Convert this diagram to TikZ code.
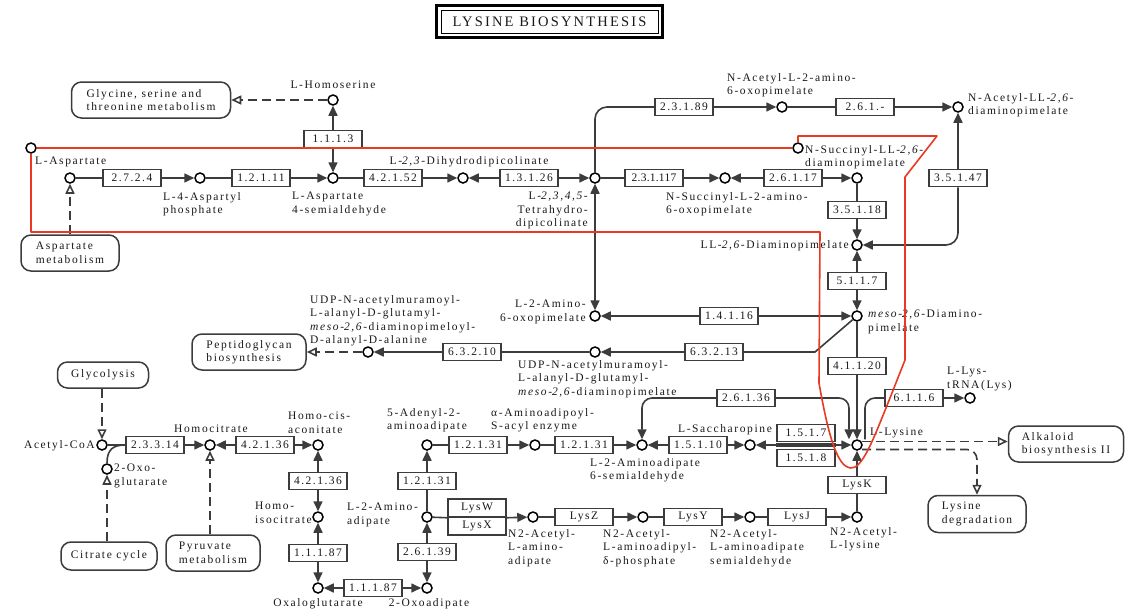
\documentclass[tikz,border=0pt]{standalone}
\usepackage{fontspec}
\setmainfont{Liberation Serif}
\newfontfamily\labfont{Liberation Serif}[LetterSpace=14]
\newfontfamily\ecfont{Liberation Serif}[LetterSpace=13]
\newfontfamily\tightfont{Liberation Serif}[LetterSpace=2]
\newfontfamily\titlefont{Liberation Serif}[LetterSpace=15]
\usetikzlibrary{arrows.meta,calc}
\definecolor{annot}{RGB}{232,58,35}
\definecolor{ink}{RGB}{25,25,25}
\definecolor{edge}{RGB}{60,60,60}

\begin{document}
\begin{tikzpicture}[x=1pt,y=-1pt,
  cpd/.style={circle,draw=black,line width=1.5pt,fill=white,minimum size=10pt,inner sep=0pt},
  ec/.style={rectangle,draw=edge,line width=1.5pt,fill=white,minimum width=58pt,
    minimum height=17pt,inner sep=0pt,text=ink,font=\ecfont\fontsize{11.5}{12}\selectfont},
  mapbox/.style={rectangle,rounded corners=10pt,draw=edge,line width=1.5pt,fill=white,
    inner sep=0pt,align=left,text=ink,font=\labfont\fontsize{11.5}{13.5}\selectfont},
  lab/.style={inner sep=0pt,text=ink,font=\labfont\fontsize{11.5}{13.5}\selectfont},
  rx/.style={draw=edge,line width=1.6pt},
  toarr/.style={-{Triangle[length=10pt,width=9pt]}},
  twoarr/.style={{Triangle[length=10pt,width=9pt]}-{Triangle[length=10pt,width=9pt]}},
  maplink/.style={draw=edge,line width=1.6pt,dash pattern=on 9pt off 5pt,
    -{Triangle[open,length=10pt,width=9pt]}},
  annotline/.style={draw=annot,line width=1.6pt,line join=round}]

\useasboundingbox (0,0) rectangle (1133,613);

% ---------- title ----------
\node[draw=black,line width=1pt,minimum width=217pt,minimum height=23pt,inner sep=0pt,
  text=ink,font=\titlefont\fontsize{14.5}{16}\selectfont] (title) at (549.5,21.5) {LYSINE BIOSYNTHESIS};
\draw[line width=3pt] ($(title.north west)+(-4,-4)$) rectangle ($(title.south east)+(4,4)$);

% ---------- compounds ----------
\node[cpd] (hse) at (333,100) {};
\node[cpd] (asp) at (70,178) {};
\node[cpd] (aspp) at (200,178) {};
\node[cpd] (asa) at (333,178) {};
\node[cpd] (dhdp) at (463,178) {};
\node[cpd] (thdp) at (595,178) {};
\node[cpd] (sko) at (725,178) {};
\node[cpd] (sdap) at (857,178) {};
\node[cpd] (ako) at (782,107) {};
\node[cpd] (adap) at (958,107) {};
\node[cpd] (lldap) at (857,245) {};
\node[cpd] (mdap) at (857,316) {};
\node[cpd] (ako6) at (595,316) {};
\node[cpd] (udpa) at (595,352) {};
\node[cpd] (udpb) at (368,352) {};
\node[cpd] (lys) at (857,445) {};
\node[cpd] (ltrna) at (970,398) {};
\node[cpd] (sacc) at (750,445) {};
\node[cpd] (aasa) at (642,445) {};
\node[cpd] (aae) at (535,445) {};
\node[cpd] (ada) at (427,445) {};
\node[cpd] (aad) at (427,517) {};
\node[cpd] (oad) at (427,588) {};
\node[cpd] (oxg) at (318,588) {};
\node[cpd] (hic) at (318,517) {};
\node[cpd] (hca) at (318,445) {};
\node[cpd] (hc) at (210,445) {};
\node[cpd] (accoa) at (102,445) {};
\node[cpd] (oglu) at (107,469) {};
\node[cpd] (naad) at (533,517) {};
\node[cpd] (naap) at (643,517) {};
\node[cpd] (naas) at (750,517) {};
\node[cpd] (nalys) at (857,517) {};
\node[cpd] (mk1) at (31,148) {};
\node[cpd] (mk2) at (798,148) {};

% ---------- enzymes ----------
\node[ec] (e1113) at (333,139) {1.1.1.3};
\node[ec] (e2724) at (132,178) {2.7.2.4};
\node[ec] (e12111) at (261,178) {1.2.1.11};
\node[ec] (e42152) at (393,178) {4.2.1.52};
\node[ec] (e13126) at (529,178) {1.3.1.26};
\node[ec] (e231117) at (654,178) {\tightfont 2.3.1.117};
\node[ec] (e26117) at (793,178) {2.6.1.17};
\node[ec] (e35118) at (857,210) {3.5.1.18};
\node[ec] (e23189) at (684,107) {2.3.1.89};
\node[ec] (e261) at (865,107) {2.6.1.-};
\node[ec] (e35147) at (958,178) {3.5.1.47};
\node[ec] (e5117) at (857,281) {5.1.1.7};
\node[ec] (e14116) at (729,316) {1.4.1.16};
\node[ec] (e63213) at (714,352) {6.3.2.13};
\node[ec] (e63210) at (472,352) {6.3.2.10};
\node[ec] (e41120) at (857,366) {4.1.1.20};
\node[ec] (e26136) at (746,398) {2.6.1.36};
\node[ec] (e6116) at (914,398) {6.1.1.6};
\node[ec] (e1517) at (806,433) {1.5.1.7};
\node[ec] (e1518) at (806,458) {1.5.1.8};
\node[ec] (e15110) at (698,445) {1.5.1.10};
\node[ec] (e12131a) at (478,445) {1.2.1.31};
\node[ec] (e12131b) at (584,445) {1.2.1.31};
\node[ec] (e12131c) at (427,481) {1.2.1.31};
\node[ec,minimum height=18pt] (lysw) at (477,508) {LysW};
\node[ec,minimum height=18pt] (lysx) at (477,526) {LysX};
\node[ec] (lysz) at (584,517) {LysZ};
\node[ec] (lysy) at (693,517) {LysY};
\node[ec] (lysj) at (797,517) {LysJ};
\node[ec] (lysk) at (857,485) {LysK};
\node[ec] (e26139) at (427,552) {2.6.1.39};
\node[ec] (e11187a) at (318,553) {1.1.1.87};
\node[ec] (e11187b) at (373,588) {1.1.1.87};
\node[ec] (e42136a) at (318,481) {4.2.1.36};
\node[ec] (e42136b) at (265,445) {4.2.1.36};
\node[ec] (e23314) at (155,445) {2.3.3.14};

% ---------- pathway maps ----------
\node[mapbox,minimum width=159pt,minimum height=36pt] (mgly) at (151,100) {Glycine, serine and\\threonine metabolism};
\node[mapbox,minimum width=98pt,minimum height=36pt] (masp) at (70,253) {Aspartate\\metabolism};
\node[mapbox,minimum width=114pt,minimum height=36pt] (mpep) at (249,352) {Peptidoglycan\\biosynthesis};
\node[mapbox,minimum width=91pt,minimum height=26pt] (mglyc) at (103,375) {Glycolysis};
\node[mapbox,minimum width=96pt,minimum height=28pt] (mcit) at (109,556) {Citrate cycle};
\node[mapbox,minimum width=94pt,minimum height=36pt] (mpyr) at (213,553) {Pyruvate\\metabolism};
\node[mapbox,minimum width=115pt,minimum height=36pt] (malk) at (1066,444) {Alkaloid\\biosynthesis II};
\node[mapbox,minimum width=98pt,minimum height=37pt] (mlysd) at (977,514) {Lysine\\degradation};

% ---------- compound names ----------
\node[lab,anchor=north] (t-hse) at (333,81) {L-Homoserine};
\node[lab,anchor=north west] (t-asp) at (35,157) {L-Aspartate};
\node[lab,anchor=north west,align=left] (t-aspp) at (163,192) {L-4-Aspartyl\\phosphate};
\node[lab,anchor=north west,align=left] (t-asa) at (292,192) {L-Aspartate\\4-semialdehyde};
\node[lab,anchor=north] (t-dhdp) at (469,156) {L-\textit{2,3}-Dihydrodipicolinate};
\node[lab,anchor=north east,align=right] (t-thdp) at (588,192) {L-\textit{2,3,4,5}-\\Tetrahydro-\\dipicolinate};
\node[lab,anchor=north west,align=left] (t-sko) at (666,192) {N-Succinyl-L-2-amino-\\6-oxopimelate};
\node[lab,anchor=north west,align=left] (t-sdap) at (805,145) {N-Succinyl-LL-\textit{2,6}-\\diaminopimelate};
\node[lab,anchor=north west,align=left] (t-ako) at (727,73) {N-Acetyl-L-2-amino-\\6-oxopimelate};
\node[lab,anchor=north west,align=left] (t-adap) at (968,93) {N-Acetyl-LL-\textit{2,6}-\\diaminopimelate};
\node[lab,anchor=east] (t-lldap) at (849,246) {LL-\textit{2,6}-Diaminopimelate};
\node[lab,anchor=north west,align=left] (t-mdap) at (868,310) {\textit{meso}-\textit{2,6}-Diamino-\\pimelate};
\node[lab,anchor=north east,align=right] (t-ako6) at (586,300) {L-2-Amino-\\6-oxopimelate};
\node[lab,anchor=north west,align=left] (t-udpa) at (518,360) {UDP-N-acetylmuramoyl-\\L-alanyl-D-glutamyl-\\\textit{meso}-\textit{2,6}-diaminopimelate};
\node[lab,anchor=north west,align=left] (t-udpb) at (310,295) {UDP-N-acetylmuramoyl-\\L-alanyl-D-glutamyl-\\\textit{meso}-\textit{2,6}-diaminopimeloyl-\\D-alanyl-D-alanine};
\node[lab,anchor=north west,align=left] (t-ltrna) at (947,367) {L-Lys-\\tRNA(Lys)};
\node[lab,anchor=west] (t-lys) at (870,433) {L-Lysine};
\node[lab] (t-sacc) at (725,430) {L-Saccharopine};
\node[lab,anchor=north west,align=left] (t-aasa) at (590,458) {L-2-Aminoadipate\\6-semialdehyde};
\node[lab,anchor=north west,align=left] (t-aae) at (491,408) {α-Aminoadipoyl-\\S-acyl enzyme};
\node[lab,anchor=north west,align=left] (t-ada) at (387,408) {5-Adenyl-2-\\aminoadipate};
\node[lab,anchor=north west,align=left] (t-aad) at (347,503) {L-2-Amino-\\adipate};
\node[lab,anchor=north west,align=left] (t-naad) at (508,529) {N2-Acetyl-\\L-amino-\\adipate};
\node[lab,anchor=north west,align=left] (t-naap) at (603,529) {N2-Acetyl-\\L-aminoadipyl-\\δ-phosphate};
\node[lab,anchor=north west,align=left] (t-naas) at (710,529) {N2-Acetyl-\\L-aminoadipate\\semialdehyde};
\node[lab,anchor=north west,align=left] (t-nalys) at (830,527) {N2-Acetyl-\\L-lysine};
\node[lab,anchor=east] (t-accoa) at (95,446) {Acetyl-CoA};
\node[lab] (t-hc) at (211,429) {Homocitrate};
\node[lab,anchor=north west,align=left] (t-hca) at (288,412) {Homo-cis-\\aconitate};
\node[lab,anchor=north west,align=left] (t-oglu) at (114,464) {2-Oxo-\\glutarate};
\node[lab,anchor=north east,align=left] (t-hic) at (312,502) {Homo-\\isocitrate};
\node[lab] (t-oxg) at (318,604) {Oxaloglutarate};
\node[lab] (t-oad) at (429,604) {2-Oxoadipate};

% ---------- reactions: aspartate branch ----------
\draw[rx] (asp) -- (e2724);
\draw[rx,toarr] (e2724) -- (aspp);
\draw[rx] (aspp) -- (e12111);
\draw[rx,toarr] (e12111) -- (asa);
\draw[rx,toarr] (e1113) -- (hse);
\draw[rx,toarr] (e1113) -- (asa);
\draw[rx] (asa) -- (e42152);
\draw[rx,toarr] (e42152) -- (dhdp);
\draw[rx,toarr] (e13126) -- (dhdp);
\draw[rx,toarr] (e13126) -- (thdp);

% ---------- succinylase / acetylase / dehydrogenase routes ----------
\draw[rx] (thdp) -- (e231117);
\draw[rx,toarr] (e231117) -- (sko);
\draw[rx,toarr] (e26117) -- (sko);
\draw[rx,toarr] (e26117) -- (sdap);
\draw[rx] (sdap) -- (e35118);
\draw[rx,toarr] (e35118) -- (lldap);
\draw[rx,rounded corners=12pt] (thdp.north) |- (e23189.west);
\draw[rx,toarr] (e23189) -- (ako);
\draw[rx] (ako) -- (e261);
\draw[rx,toarr] (e261) -- (adap);
\draw[rx,toarr] (e35147) -- (adap);
\draw[rx,toarr,rounded corners=12pt] (e35147.south) |- (lldap.east);
\draw[rx,toarr] (e5117) -- (lldap);
\draw[rx,toarr] (e5117) -- (mdap);
\draw[rx,twoarr] (thdp) -- (ako6);
\draw[rx,toarr] (e14116) -- (ako6);
\draw[rx,toarr] (e14116) -- (mdap);

% ---------- peptidoglycan side ----------
\coordinate (bend) at (815,352);
\draw[rx] (mdap) -- (bend) -- (e63213);
\draw[rx,toarr] (e63213) -- (udpa);
\draw[rx] (udpa) -- (e63210);
\draw[rx,toarr] (e63210) -- (udpb);

% ---------- to lysine ----------
\draw[rx] (mdap) -- (e41120);
\draw[rx,toarr] (e41120) -- (lys);
\draw[rx,toarr,rounded corners=10pt] (e26136.west) -| (aasa.north);
\draw[rx,toarr,rounded corners=10pt] (e26136.east) -| ([xshift=-8pt]lys.north);
\draw[rx,rounded corners=10pt] ([xshift=8pt]lys.north) |- (e6116.west);
\draw[rx,toarr] (e6116) -- (ltrna);
\draw[rx,toarr] (e15110) -- (aasa);
\draw[rx,toarr] (e15110) -- (sacc);
\draw[rx,twoarr] (sacc) -- (lys);
\draw[rx,line width=3.4pt] (e1517.south west |- sacc) -- (e1517.south east |- sacc);
\draw[rx,toarr] (lysk) -- (lys);
\draw[rx] (nalys) -- (lysk);

% ---------- aminoadipate (AAA) route ----------
\draw[rx] (naas) -- (lysj);
\draw[rx,toarr] (lysj) -- (nalys);
\draw[rx] (naap) -- (lysy);
\draw[rx,toarr] (lysy) -- (naas);
\draw[rx] (naad) -- (lysz);
\draw[rx,toarr] (lysz) -- (naap);
\draw[rx] (aad) -- (lysw.south west);
\draw[rx,toarr] (lysw.south east) -- (naad);
\draw[rx] (aad) -- (e12131c);
\draw[rx,toarr] (e12131c) -- (ada);
\draw[rx] (ada) -- (e12131a);
\draw[rx,toarr] (e12131a) -- (aae);
\draw[rx] (aae) -- (e12131b);
\draw[rx,toarr] (e12131b) -- (aasa);
\draw[rx,toarr] (e26139) -- (aad);
\draw[rx,toarr] (e26139) -- (oad);
\draw[rx,toarr] (e11187b) -- (oxg);
\draw[rx,toarr] (e11187b) -- (oad);
\draw[rx,toarr] (e11187a) -- (hic);
\draw[rx,toarr] (e11187a) -- (oxg);
\draw[rx,toarr] (e42136a) -- (hca);
\draw[rx,toarr] (e42136a) -- (hic);
\draw[rx,toarr] (e42136b) -- (hc);
\draw[rx,toarr] (e42136b) -- (hca);
\draw[rx] (accoa) -- (e23314);
\draw[rx,toarr] (e23314) -- (hc);
\draw[rx] (oglu.north) .. controls +(0,-14) and +(-12,0) .. (e23314.west);

% ---------- links to other maps ----------
\draw[maplink] (hse) -- (mgly);
\draw[maplink] (masp) -- (asp);
\draw[maplink] (udpb) -- (mpep);
\draw[maplink] (accoa |- mglyc.south) -- (accoa);
\draw[maplink] (oglu |- mcit.north) -- (oglu);
\draw[maplink] (hc |- mpyr.north) -- (hc);
\coordinate (lsu) at ($(lys)+(5,-3.5)$);
\coordinate (lsd) at ($(lys)+(5,4.5)$);
\draw[maplink] (lsu) -- (lsu -| malk.west);
\draw[maplink,rounded corners=10pt] (lsd) -| (mlysd.north);

% ---------- hand-drawn red outline ----------
\draw[annotline] (mk1.east) -- (mk2.west);
\draw[annotline] (mk2.north) -- (798,136) -- (937,136) -- (905,177) -- (905,360) -- (888,403)
  .. controls (873,440) and (862,470) .. (850,468)
  .. controls (838,466) and (829,440) .. (819,383) -- (820,232) -- (31,232) -- (mk1.south);
\end{tikzpicture}
\end{document}
